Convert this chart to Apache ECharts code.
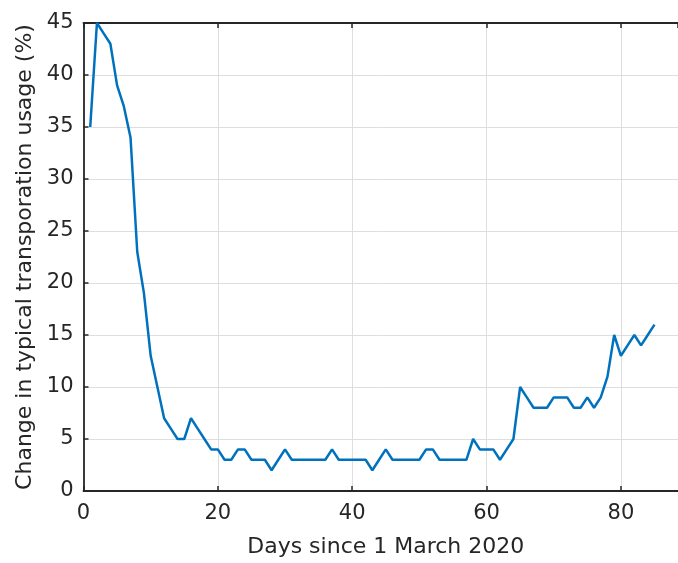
<!DOCTYPE html>
<html>
<head>
<meta charset="utf-8">
<script src="https://cdn.jsdelivr.net/npm/echarts@6/dist/echarts.min.js"></script>
<style>
html,body{margin:0;padding:0;background:#fff;}
#c{width:678px;height:563px;}
</style>
</head>
<body>
<div id="c"></div>
<script>
const days = [1,2,3,4,5,6,7,8,9,10,11,12,13,14,15,16,17,18,19,20,21,22,23,24,25,26,27,28,29,30,31,32,33,34,35,36,37,38,39,40,41,42,43,44,45,46,47,48,49,50,51,52,53,54,55,56,57,58,59,60,61,62,63,64,65,66,67,68,69,70,71,72,73,74,75,76,77,78,79,80,81,82,83,84,85];
const usage = [35,45,44,43,39,37,34,23,19,13,10,7,6,5,5,7,6,5,4,4,3,3,4,4,3,3,3,2,3,4,3,3,3,3,3,3,4,3,3,3,3,3,2,3,4,3,3,3,3,3,4,4,3,3,3,3,3,5,4,4,4,3,4,5,10,9,8,8,8,9,9,9,8,8,9,8,9,11,15,13,14,15,14,15,16];
const xTicks = [0,20,40,60,80];
const yTicks = [0,5,10,15,20,25,30,35,40,45];
const xTitle = 'Days since 1 March 2020';
const yTitle = 'Change in typical transporation usage (%)';

const font = 'DejaVu Sans';
const txt = '#262626';
const chart = echarts.init(document.getElementById('c'), null, {renderer:'canvas'});
const axisLineStyle = {color:'#262626', width:1.8};
const tickStyle = {color:'#262626', width:1.5};
chart.setOption({
  animation:false,
  backgroundColor:'#fff',
  grid:{left:83.5, top:23, right:0, height:470, containLabel:false},
  xAxis:[{
    type:'value', min:0, max:88.5, interval:20,
    name:xTitle, nameLocation:'middle', nameGap:45,
    nameTextStyle:{fontFamily:font, fontSize:22, color:txt, padding:[0,0,0,10]},
    axisLine:{show:true, onZero:false, lineStyle:axisLineStyle},
    axisTick:{show:true, inside:true, length:5, lineStyle:tickStyle},
    axisLabel:{fontFamily:font, fontSize:21, color:txt, margin:12, showMaxLabel:false,
      formatter:v => xTicks.includes(v) ? String(v) : ''},
    splitLine:{show:true, lineStyle:{color:'#dedede', width:1}}
  },{
    type:'value', position:'top', min:0, max:88.5, interval:20,
    axisLine:{show:true, onZero:false, lineStyle:axisLineStyle},
    axisTick:{show:true, inside:true, length:5, lineStyle:tickStyle},
    axisLabel:{show:false}, splitLine:{show:false}
  }],
  yAxis:{
    type:'value', min:0, max:45, interval:5,
    name:yTitle, nameLocation:'middle', nameGap:43, nameRotate:90,
    nameTextStyle:{fontFamily:font, fontSize:22, color:txt},
    axisLine:{show:true, onZero:false, lineStyle:axisLineStyle},
    axisTick:{show:true, inside:true, length:5, lineStyle:tickStyle},
    axisLabel:{fontFamily:font, fontSize:21, color:txt, margin:10,
      formatter:v => yTicks.includes(v) ? String(v) : ''},
    splitLine:{show:true, lineStyle:{color:'#dedede', width:1}}
  },
  series:[{
    type:'line', xAxisIndex:0,
    data: days.map((d,i)=>[d, usage[i]]),
    showSymbol:false, symbol:'none',
    lineStyle:{color:'#0072BD', width:2.5},
    itemStyle:{color:'#0072BD'}
  }]
});
</script>
</body>
</html>
